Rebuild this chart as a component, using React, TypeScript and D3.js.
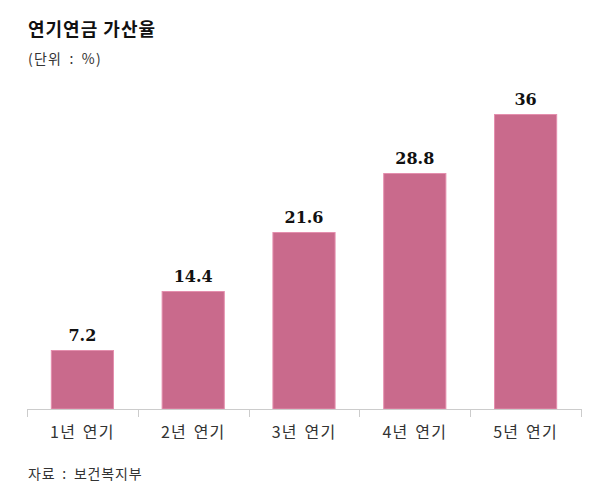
import * as d3 from 'd3';

const categories = ['1년 연기', '2년 연기', '3년 연기', '4년 연기', '5년 연기'];
const values = [7.2, 14.4, 21.6, 28.8, 36];
const valueLabels = ['7.2', '14.4', '21.6', '28.8', '36'];

const W = 589;
const H = 486;
const left = 27;
const right = 581;
const baseY = 409;

const KR = '"Noto Sans CJK KR", "Noto Sans", sans-serif';

export default function App() {
  const x = d3
    .scaleBand<string>()
    .domain(categories)
    .range([left, right])
    .paddingInner(0.43)
    .paddingOuter(0.215);
  const y = d3.scaleLinear().domain([0, 40]).range([baseY, baseY - 40 * 8.194]);
  const step = x.step();

  return (
    <svg
      width={W}
      height={H}
      viewBox={`0 0 ${W} ${H}`}
      style={{ position: 'absolute', left: 0, top: 0, background: '#fff' }}
    >
      <text x={28} y={36} fontFamily={KR} fontSize={18} fontWeight={700} letterSpacing={1} fill="#111">
        연기연금 가산율
      </text>
      <text x={28} y={64} fontFamily={KR} fontSize={14} letterSpacing={1.2} wordSpacing={3} fill="#333">
        (단위 : %)
      </text>

      {categories.map((c, i) => {
        const bx = x(c) ?? 0;
        const top = y(values[i]);
        return (
          <g key={c}>
            <rect
              x={bx + 0.5}
              y={top + 0.5}
              width={x.bandwidth() - 1}
              height={baseY - top - 0.5}
              fill="#c96a8c"
              stroke="#e48fae"
              strokeWidth={1}
            />
            <text
              x={bx + x.bandwidth() / 2}
              y={top - 9}
              textAnchor="middle"
              fontFamily='"DejaVu Serif", serif'
              fontSize={16}
              fontWeight={700}
              fill="#111"
            >
              {valueLabels[i]}
            </text>
            <text
              x={bx + x.bandwidth() / 2}
              y={438}
              textAnchor="middle"
              fontFamily={KR}
              fontSize={16}
              letterSpacing={1.2}
              wordSpacing={2}
              fill="#333"
            >
              {c}
            </text>
          </g>
        );
      })}

      <line x1={left} x2={right} y1={baseY + 0.5} y2={baseY + 0.5} stroke="#ccc" />
      {d3.range(categories.length + 1).map((i) => {
        const tx = Math.round(left + i * step) + 0.5;
        return <line key={i} x1={tx} x2={tx} y1={baseY} y2={baseY + 8} stroke="#ccc" />;
      })}

      <text x={28} y={479} fontFamily={KR} fontSize={14} letterSpacing={0.8} wordSpacing={3} fill="#333">
        자료 : 보건복지부
      </text>
    </svg>
  );
}
